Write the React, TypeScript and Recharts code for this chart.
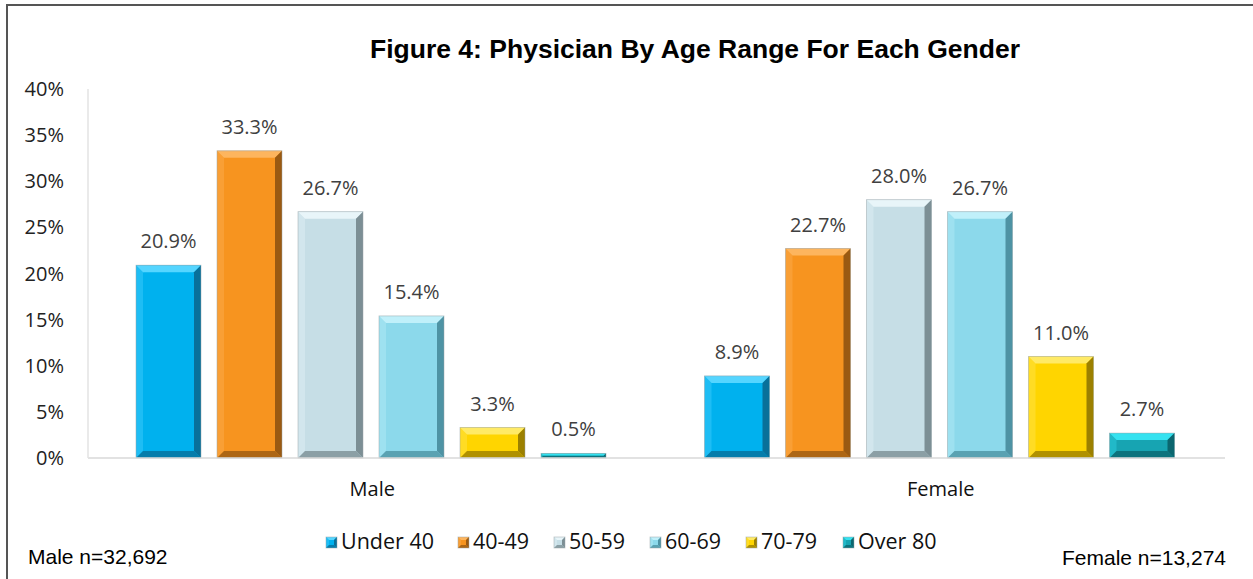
import { BarChart, Bar, XAxis, YAxis, LabelList } from 'recharts';

const genders = ['Male', 'Female'];
const ageGroups = ['Under 40', '40-49', '50-59', '60-69', '70-79', 'Over 80'];
const maleShares = [20.9, 33.3, 26.7, 15.4, 3.3, 0.5];
const femaleShares = [8.9, 22.7, 28.0, 26.7, 11.0, 2.7];
const yTicks = [0, 5, 10, 15, 20, 25, 30, 35, 40];

// base / light bevel / dark bevel for each age group
const palette = [
  { base: '#00B1EE', light: '#55D5FF', dark: '#08709A' },
  { base: '#F7941F', light: '#FDB55E', dark: '#9A5A12' },
  { base: '#C6DEE6', light: '#E8F5F9', dark: '#7C8F95' },
  { base: '#8CD9EB', light: '#C0F0FA', dark: '#4E93A4' },
  { base: '#FFD500', light: '#FFEA66', dark: '#9C8000' },
  { base: '#17A4B2', light: '#35E2F0', dark: '#0B666F' },
];

const data = genders.map((g, gi) => {
  const row: Record<string, string | number> = { gender: g };
  const vals = gi === 0 ? maleShares : femaleShares;
  ageGroups.forEach((a, i) => {
    row[a] = vals[i];
  });
  return row;
});

const legendX = [326, 458, 554, 650, 746, 843];

function Bevel({ x, y, width, height, c, b0 = 7 }: any) {
  if (!width || !height || height <= 0) return null;
  const b = Math.min(b0, height / 2, width / 2);
  const x2 = x + width;
  const y2 = y + height;
  return (
    <g>
      <rect x={x} y={y} width={width} height={height} fill={c.base} />
      <polygon points={`${x},${y} ${x2},${y} ${x2 - b},${y + b} ${x + b},${y + b}`} fill={c.light} />
      <polygon points={`${x},${y} ${x + b},${y + b} ${x + b},${y2 - b} ${x},${y2}`} fill={c.light} opacity={0.35} />
      <polygon points={`${x2},${y} ${x2},${y2} ${x2 - b},${y2 - b} ${x2 - b},${y + b}`} fill={c.dark} />
      <polygon points={`${x},${y2} ${x + b},${y2 - b} ${x2 - b},${y2 - b} ${x2},${y2}`} fill={c.dark} opacity={0.8} />
      <rect x={x} y={y} width={width} height={height} fill="none" stroke="#9aa5a8" strokeOpacity={0.6} strokeWidth={0.8} />
    </g>
  );
}

export default function App() {
  const sans = '"Open Sans", "Noto Sans", sans-serif';
  const arial = "Arial, 'Liberation Sans', sans-serif";
  return (
    <div style={{ position: 'relative', width: 1253, height: 579, margin: -8, background: '#fff' }}>
      <BarChart
        width={1253}
        height={579}
        data={data}
        margin={{ top: 89, right: 28, bottom: 91, left: 0 }}
        barCategoryGap={48}
        barGap={16}
      >
        <XAxis
          dataKey="gender"
          height={30}
          tickLine={false}
          tickSize={0}
          tickMargin={24}
          axisLine={{ stroke: '#D9D9D9', strokeWidth: 1.5 }}
          tick={{ fill: '#111', fontSize: 20, fontFamily: sans }}
        />
        <YAxis
          width={88}
          domain={[0, 40]}
          ticks={yTicks}
          tickFormatter={(v) => `${v}%`}
          tickLine={false}
          tickSize={0}
          tickMargin={24}
          axisLine={{ stroke: '#E3E3E3', strokeWidth: 1.5 }}
          tick={{ fill: '#222', fontSize: 20, fontFamily: sans }}
        />
        {ageGroups.map((a, i) => (
          <Bar
            key={a}
            dataKey={a}
            fill={palette[i].base}
            isAnimationActive={false}
            shape={(p: any) => <Bevel {...p} c={palette[i]} />}
          >
            <LabelList
              dataKey={a}
              position="top"
              offset={17}
              formatter={(v: any) => `${Number(v).toFixed(1)}%`}
              style={{ fill: '#404040', fontSize: 20, fontFamily: sans }}
            />
          </Bar>
        ))}
      </BarChart>
      <svg width={1253} height={579} style={{ position: 'absolute', left: 0, top: 0, pointerEvents: 'none' }}>
        <rect x={6} y={4} width={1260} height={600} fill="none" stroke="#555" strokeWidth={2.5} />
        <text x={695} y={58} textAnchor="middle" fontFamily={arial} fontWeight="bold" fontSize={26.5} fill="#000">
          Figure 4: Physician By Age Range For Each Gender
        </text>
        {ageGroups.map((a, i) => (
          <g key={a}>
            <Bevel x={legendX[i]} y={537} width={11} height={11} c={palette[i]} b0={3} />
            <text x={legendX[i] + 15} y={549} fontFamily={sans} fontSize={21.5} fill="#111">
              {a}
            </text>
          </g>
        ))}
        <text x={28} y={564} fontFamily={arial} fontSize={21} fill="#000">
          Male n=32,692
        </text>
        <text x={1226} y={565} textAnchor="end" fontFamily={arial} fontSize={21} fill="#000">
          Female n=13,274
        </text>
      </svg>
      {/* frame */}
      <div style={{ position: 'fixed', left: 6, top: 4, width: 1300, height: 650, borderLeft: '2px solid #555', borderTop: '2px solid #555', boxSizing: 'border-box', pointerEvents: 'none', zIndex: 10 }} />
    </div>
  );
}
